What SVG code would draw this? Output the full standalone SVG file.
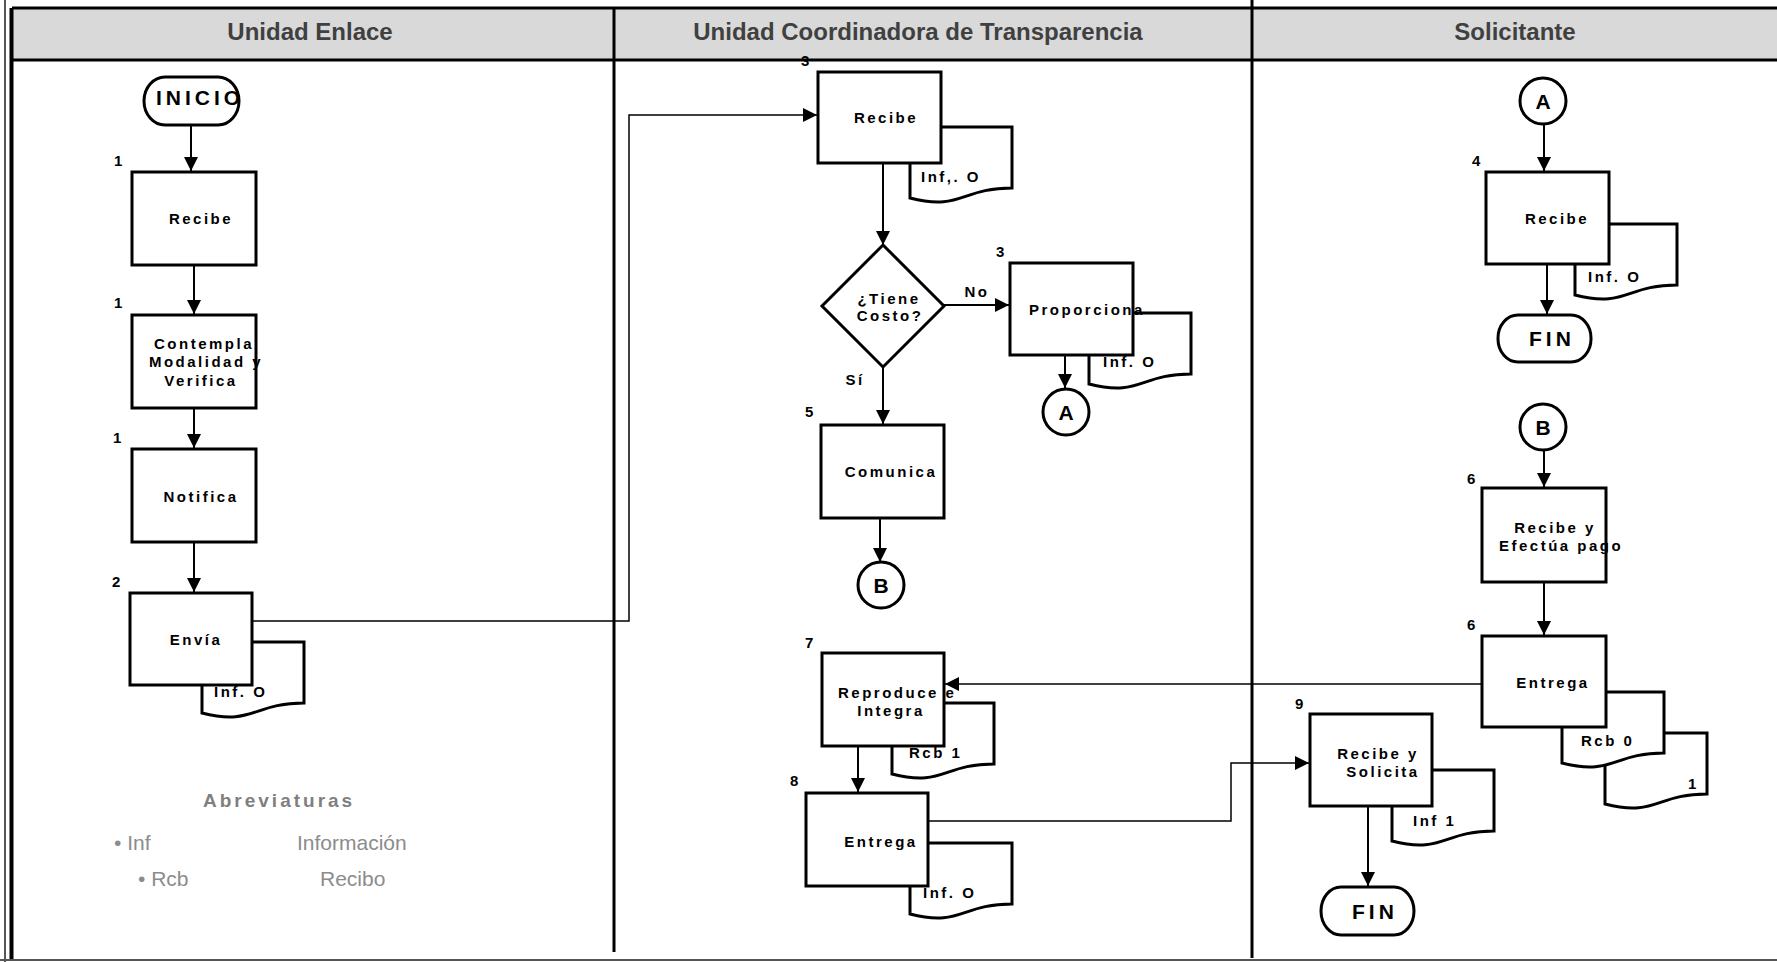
<svg xmlns="http://www.w3.org/2000/svg" xmlns:xlink="http://www.w3.org/1999/xlink" width="1777" height="962" viewBox="0 0 1777 962">
  <style>
    .box{fill:#fff;stroke:#000;stroke-width:3}
    .doc{fill:#fff;stroke:#000;stroke-width:3}
    .lane{stroke:#000;stroke-width:3}
    .conn{fill:none;stroke:#000;stroke-width:2}
    .thin{fill:none;stroke:#000;stroke-width:1.5}
    .hdr{font-family:"Liberation Sans",Arial,sans-serif;font-weight:bold;font-size:24px;fill:#404040;text-anchor:middle}
    .lbl{font-family:"Liberation Sans",Arial,sans-serif;font-weight:bold;font-size:15px;letter-spacing:2.5px;fill:#000}
    .mid{text-anchor:middle}
    .num{font-family:"Liberation Sans",Arial,sans-serif;font-weight:bold;font-size:15px;fill:#000}
    .term{font-family:"Liberation Sans",Arial,sans-serif;font-weight:bold;font-size:21px;letter-spacing:4px;fill:#000}
    .circ{font-family:"Liberation Sans",Arial,sans-serif;font-weight:bold;font-size:21px;fill:#000;text-anchor:middle}
    .legh{font-family:"Liberation Sans",Arial,sans-serif;font-weight:bold;font-size:19px;letter-spacing:3px;fill:#7f7f7f}
    .leg{font-family:"Liberation Sans",Arial,sans-serif;font-size:21px;fill:#8c8c8c}
  </style>
  <defs>
    <marker id="arrow" markerUnits="userSpaceOnUse" markerWidth="14" markerHeight="14" refX="14" refY="7" orient="auto">
      <path d="M0,0 L14,7 L0,14 Z" fill="#000"/>
    </marker>
    <!-- document shape with wavy bottom, origin at top-left -->
    <path id="docShape" d="M0,0 H102 V61 C51,61 51,84 0,71 Z"/>
  </defs>

  <rect width="1777" height="962" fill="#fff"/>

  <!-- swimlane frame -->
  <g id="frame">
    <rect x="12" y="8" width="1765" height="52" fill="#d9d9d9"/>
    <line class="lane" x1="12" y1="8" x2="1777" y2="8"/>
    <line class="lane" x1="12" y1="60" x2="1777" y2="60"/>
    <line x1="5" y1="0" x2="5" y2="962" stroke="#555" stroke-width="2"/>
    <line x1="11.5" y1="8" x2="11.5" y2="960" stroke="#000" stroke-width="4"/>
    <line class="lane" x1="614" y1="8" x2="614" y2="952"/>
    <line class="lane" x1="1252" y1="0" x2="1252" y2="958"/>
    <line x1="0" y1="960" x2="1777" y2="960" stroke="#555" stroke-width="2"/>
    <text class="hdr" x="310" y="40">Unidad Enlace</text>
    <text class="hdr" x="918" y="40">Unidad Coordinadora de Transparencia</text>
    <text class="hdr" x="1515" y="40">Solicitante</text>
  </g>

  <!-- connectors -->
  <g id="connectors">
    <path class="conn" d="M191,125 V171" marker-end="url(#arrow)"/>
    <path class="conn" d="M194,265 V314" marker-end="url(#arrow)"/>
    <path class="conn" d="M194,408 V448" marker-end="url(#arrow)"/>
    <path class="conn" d="M194,542 V592" marker-end="url(#arrow)"/>
    <path class="thin" d="M252,621 H629 V115 H817" marker-end="url(#arrow)"/>
    <path class="conn" d="M883,163 V245" marker-end="url(#arrow)"/>
    <path class="conn" d="M944,305 H1009" marker-end="url(#arrow)"/>
    <path class="conn" d="M883,367 V424" marker-end="url(#arrow)"/>
    <path class="conn" d="M1065,355 V388" marker-end="url(#arrow)"/>
    <path class="conn" d="M880,518 V562" marker-end="url(#arrow)"/>
    <path class="thin" d="M1482,684 H945" marker-end="url(#arrow)"/>
    <path class="conn" d="M858,746 V792" marker-end="url(#arrow)"/>
    <path class="thin" d="M928,821 H1231 V763 H1309" marker-end="url(#arrow)"/>
    <path class="conn" d="M1544,124 V171" marker-end="url(#arrow)"/>
    <path class="conn" d="M1547,264 V314" marker-end="url(#arrow)"/>
    <path class="conn" d="M1544,450 V487" marker-end="url(#arrow)"/>
    <path class="conn" d="M1544,582 V635" marker-end="url(#arrow)"/>
    <path class="conn" d="M1368,806 V886" marker-end="url(#arrow)"/>
  </g>

  <!-- Unidad Enlace -->
  <g id="inicio">
    <rect class="box" x="144" y="77" width="95" height="48" rx="21" ry="24"/>
    <text class="term" x="156" y="105">INICIO</text>
  </g>
  <g id="ue-recibe">
    <text class="num" x="114" y="166">1</text>
    <rect class="box" x="132" y="172" width="124" height="93"/>
    <text class="lbl mid" x="201" y="224">Recibe</text>
  </g>
  <g id="ue-contempla">
    <text class="num" x="114" y="308">1</text>
    <rect class="box" x="132" y="315" width="124" height="93"/>
    <text class="lbl mid" x="204" y="349">Contempla</text>
    <text class="lbl mid" x="206" y="367">Modalidad y</text>
    <text class="lbl mid" x="201" y="386">Verifica</text>
  </g>
  <g id="ue-notifica">
    <text class="num" x="113" y="443">1</text>
    <rect class="box" x="132" y="449" width="124" height="93"/>
    <text class="lbl mid" x="201" y="502">Notifica</text>
  </g>
  <g id="ue-envia">
    <text class="num" x="112" y="587">2</text>
    <use href="#docShape" class="doc" x="202" y="642"/>
    <rect class="box" x="130" y="593" width="122" height="92"/>
    <text class="lbl mid" x="196" y="645">Envía</text>
    <text class="lbl" x="214" y="697">Inf. O</text>
  </g>
  <g id="abreviaturas">
    <text class="legh" x="203" y="807">Abreviaturas</text>
    <text class="leg" x="114" y="850">• Inf</text>
    <text class="leg" x="297" y="850">Información</text>
    <text class="leg" x="138" y="886">• Rcb</text>
    <text class="leg" x="320" y="886">Recibo</text>
  </g>

  <!-- Unidad Coordinadora de Transparencia -->
  <g id="uct-recibe">
    <use href="#docShape" class="doc" x="910" y="127"/>
    <rect class="box" x="818" y="72" width="123" height="91"/>
    <text class="num" x="801" y="66">3</text>
    <text class="lbl mid" x="886" y="123">Recibe</text>
    <text class="lbl" x="921" y="182">Inf,. O</text>
  </g>
  <g id="uct-costo">
    <polygon class="box" points="883,245 944,306 883,367 822,306"/>
    <text class="lbl mid" x="889" y="304" letter-spacing="2">¿Tiene</text>
    <text class="lbl mid" x="890" y="321" letter-spacing="2">Costo?</text>
    <text class="lbl mid" x="977" y="297" letter-spacing="1">No</text>
    <text class="lbl mid" x="855" y="385" letter-spacing="1">Sí</text>
  </g>
  <g id="uct-proporciona">
    <text class="num" x="996" y="257">3</text>
    <use href="#docShape" class="doc" x="1089" y="313"/>
    <rect class="box" x="1010" y="263" width="123" height="92"/>
    <text class="lbl" x="1029" y="315">Proporciona</text>
    <text class="lbl" x="1103" y="367">Inf. O</text>
  </g>
  <g id="uct-conector-a">
    <circle class="box" cx="1066" cy="412" r="23"/>
    <text class="circ" x="1066" y="420">A</text>
  </g>
  <g id="uct-comunica">
    <text class="num" x="805" y="417">5</text>
    <rect class="box" x="821" y="425" width="123" height="93"/>
    <text class="lbl mid" x="891" y="477">Comunica</text>
  </g>
  <g id="uct-conector-b">
    <circle class="box" cx="881" cy="585" r="23"/>
    <text class="circ" x="881" y="593">B</text>
  </g>
  <g id="uct-reproduce">
    <text class="num" x="805" y="648">7</text>
    <use href="#docShape" class="doc" x="892" y="703"/>
    <rect class="box" x="822" y="653" width="122" height="93"/>
    <text class="lbl" x="838" y="698">Reproduce e</text>
    <text class="lbl mid" x="891" y="716">Integra</text>
    <text class="lbl" x="909" y="758">Rcb 1</text>
  </g>
  <g id="uct-entrega">
    <text class="num" x="790" y="786">8</text>
    <use href="#docShape" class="doc" x="910" y="843"/>
    <rect class="box" x="806" y="793" width="122" height="93"/>
    <text class="lbl mid" x="881" y="847">Entrega</text>
    <text class="lbl" x="923" y="898">Inf. O</text>
  </g>

  <!-- Solicitante -->
  <g id="sol-conector-a">
    <circle class="box" cx="1543" cy="101" r="23"/>
    <text class="circ" x="1543" y="109">A</text>
  </g>
  <g id="sol-recibe">
    <text class="num" x="1472" y="166">4</text>
    <use href="#docShape" class="doc" x="1575" y="224"/>
    <rect class="box" x="1486" y="172" width="123" height="92"/>
    <text class="lbl mid" x="1557" y="224">Recibe</text>
    <text class="lbl" x="1588" y="282">Inf. O</text>
  </g>
  <g id="sol-fin-1">
    <rect class="box" x="1498" y="315" width="93" height="47" rx="20" ry="23"/>
    <text class="term" x="1529" y="346" letter-spacing="3">FIN</text>
  </g>
  <g id="sol-conector-b">
    <circle class="box" cx="1543" cy="427" r="23"/>
    <text class="circ" x="1543" y="435">B</text>
  </g>
  <g id="sol-pago">
    <text class="num" x="1467" y="484">6</text>
    <rect class="box" x="1482" y="488" width="124" height="94"/>
    <text class="lbl mid" x="1555" y="533">Recibe y</text>
    <text class="lbl" x="1499" y="551">Efectúa pago</text>
  </g>
  <g id="sol-entrega">
    <text class="num" x="1467" y="630">6</text>
    <use href="#docShape" class="doc" x="1605" y="733"/>
    <use href="#docShape" class="doc" x="1562" y="692"/>
    <rect class="box" x="1482" y="636" width="124" height="91"/>
    <text class="lbl mid" x="1553" y="688">Entrega</text>
    <text class="lbl" x="1581" y="746">Rcb 0</text>
    <text class="lbl" x="1688" y="789">1</text>
  </g>
  <g id="sol-solicita">
    <text class="num" x="1295" y="709">9</text>
    <use href="#docShape" class="doc" x="1392" y="770"/>
    <rect class="box" x="1310" y="714" width="122" height="92"/>
    <text class="lbl mid" x="1378" y="759">Recibe y</text>
    <text class="lbl mid" x="1383" y="777">Solicita</text>
    <text class="lbl" x="1413" y="826">Inf 1</text>
  </g>
  <g id="sol-fin-2">
    <rect class="box" x="1321" y="887" width="93" height="48" rx="20" ry="24"/>
    <text class="term" x="1352" y="919" letter-spacing="3">FIN</text>
  </g>
</svg>
